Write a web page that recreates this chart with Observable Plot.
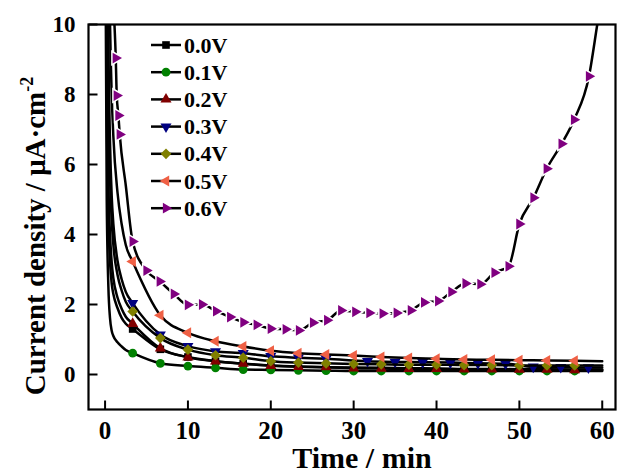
<!DOCTYPE html>
<html><head><meta charset="utf-8">
<script src="https://cdn.jsdelivr.net/npm/d3@7"></script>
<script src="https://cdn.jsdelivr.net/npm/@observablehq/plot@0.6"></script>
<style>body{margin:0;background:#fff;} #chart{width:617px;height:474px;}</style>
</head><body><div id="chart"></div>
<script>
// ---- data ----
const seriesNames  = ["0.0V","0.1V","0.2V","0.3V","0.4V","0.5V","0.6V"];
const seriesColors = ["#000000","#008000","#800000","#000080","#808000","#ef6045","#800080"];
const xTicks = [0,10,20,30,40,50,60];
const yTicks = [0,2,4,6,8,10];

// shared time grid (min) for 0.0, 0.1, 0.2, 0.4, 0.5 V
const tMain = [0.05,0.2,0.4,0.6,0.8,1.0,1.5,2.0,2.5,3.33,6.67,10,13.33,16.67,20,23.33,26.67,30,33.33,36.67,40,43.33,46.67,50,53.33,56.67,60];
const v00 = [20,8,4.5,3.2,2.6,2.3,1.9,1.62,1.45,1.3,0.72,0.5,0.38,0.31,0.26,0.23,0.21,0.2,0.19,0.18,0.17,0.16,0.16,0.15,0.15,0.14,0.14];
const v01 = [12,5,2.5,1.6,1.25,1.1,0.92,0.8,0.7,0.61,0.32,0.24,0.19,0.14,0.13,0.12,0.11,0.1,0.1,0.1,0.1,0.1,0.1,0.1,0.1,0.1,0.1];
const v02 = [25,10,5.5,4.0,3.2,2.75,2.2,1.88,1.65,1.45,0.75,0.49,0.38,0.31,0.25,0.22,0.21,0.18,0.17,0.16,0.16,0.15,0.15,0.14,0.14,0.13,0.13];
const v04 = [30,14,8,5.6,4.4,3.7,2.85,2.4,2.08,1.8,1.04,0.71,0.55,0.48,0.38,0.34,0.32,0.3,0.29,0.28,0.28,0.27,0.27,0.26,0.26,0.26,0.26];
const v05 = [40,22,14,10,8,6.8,5.2,4.3,3.7,3.23,1.69,1.19,0.95,0.8,0.68,0.61,0.57,0.54,0.5,0.47,0.45,0.43,0.42,0.41,0.4,0.39,0.38];
// 0.3 V has its own sampling (markers shift after ~28 min)
const t03 = [0.05,0.2,0.4,0.6,0.8,1.0,1.5,2.0,2.5,3.33,6.67,10,13.33,16.67,20,23.33,26.67,31.67,35,38.33,41.67,45,48.33,51.67,55,58.33,60];
const v03 = [35,16,9.5,6.6,5.1,4.3,3.25,2.72,2.36,2.04,1.14,0.81,0.66,0.61,0.52,0.48,0.45,0.38,0.36,0.35,0.34,0.32,0.31,0.22,0.21,0.2,0.2];
// 0.6 V
const t06 = [0.05,0.5,1.0,1.29,1.41,1.61,1.77,2.5,3.33,5.0,6.6,8.3,10,11.7,13.4,15.1,16.7,18.3,20,21.8,23.4,25.1,26.8,28.5,30.2,31.9,33.5,35.2,36.9,38.5,40.2,41.8,43.5,45.3,47.0,48.7,50.0,51.7,53.3,55.1,56.6,58.4,59.4,60];
const v06 = [40,16,10.8,9.04,7.97,7.4,6.86,5.4,3.8,2.97,2.66,2.3,1.99,2.0,1.81,1.64,1.49,1.42,1.31,1.29,1.26,1.48,1.55,1.83,1.79,1.76,1.74,1.76,1.83,2.06,2.10,2.36,2.6,2.58,2.91,3.09,4.3,5.05,5.88,6.59,7.28,8.52,10,10.9];
const m06 = [0,0,0,1,1,1,1,0,1,1,1,1,1,1,1,1,1,1,1,1,1,1,1,1,1,1,1,1,1,1,1,1,1,1,1,1,1,1,1,1,1,1,0,0];

// ---- symbols ----
const s3 = Math.sqrt(3);
function triangle(dir) {
  return {draw(ctx, size) {
    const y = -Math.sqrt(size / (s3 * 3));
    let pts = [[0, 2 * y], [-s3 * y, -y], [s3 * y, -y]];
    if (dir === "down") pts = pts.map(([a, b]) => [a, -b]);
    if (dir === "right") pts = pts.map(([a, b]) => [-b, a]);
    if (dir === "left") pts = pts.map(([a, b]) => [b, -a]);
    ctx.moveTo(pts[0][0], pts[0][1]);
    ctx.lineTo(pts[1][0], pts[1][1]);
    ctx.lineTo(pts[2][0], pts[2][1]);
    ctx.closePath();
  }};
}
const symbols = [d3.symbolSquare, d3.symbolCircle, triangle("up"), triangle("down"), d3.symbolDiamond2, triangle("left"), triangle("right")];
const radii = [4.3, 4.4, 4.1, 4.1, 4.8, 4.1, 4.0];
const tickUp = {draw(ctx) { ctx.moveTo(0, 0); ctx.lineTo(0, -9); }};
const tickRight = {draw(ctx) { ctx.moveTo(0, 0); ctx.lineTo(9, 0); }};

const tSets = [tMain, tMain, tMain, t03, tMain, tMain, t06];
const vSets = [v00, v01, v02, v03, v04, v05, v06];

const xDomain = [-2, 61.6];
const yDomain = [-1, 10];

const marks = [];
seriesNames.forEach((name, k) => {
  const rows = tSets[k].map((t, i) => ({t, v: vSets[k][i], m: k === 6 ? m06[i] === 1 : (t > 3 && t < 59.9)}));
  marks.push(Plot.line(rows, {x: "t", y: "v", stroke: "black", strokeWidth: 2.5, curve: "monotone-x", clip: true}));
  const mk = rows.filter(d => d.m);
  marks.push(Plot.dot(mk, {
    x: "t", y: "v", symbol: symbols[k], r: radii[k], fill: seriesColors[k],
    stroke: k === 6 ? "white" : "none", strokeWidth: k === 6 ? 3 : 0, paintOrder: "stroke", clip: true
  }));
});

const fontFam = "'Liberation Serif','Times New Roman',serif";
const svg = Plot.plot({
  width: 617, height: 474,
  marginLeft: 88, marginRight: 2, marginTop: 24, marginBottom: 65,
  style: {fontFamily: fontFam, fontWeight: "bold", background: "white", color: "black"},
  x: {domain: xDomain},
  y: {domain: yDomain},
  marks: [
    ...marks,
    Plot.dot(xTicks, {x: d => d, y: yDomain[0], symbol: tickUp, r: 3, stroke: "black", fill: "none", strokeWidth: 2}),
    Plot.dot(yTicks, {y: d => d, x: xDomain[0], symbol: tickRight, r: 3, stroke: "black", fill: "none", strokeWidth: 2}),
    Plot.axisX({ticks: xTicks, tickSize: 0, tickPadding: 12, fontSize: 25, fontWeight: "bold", label: null}),
    Plot.axisY({ticks: yTicks, tickSize: 0, tickPadding: 13, fontSize: 23, fontWeight: "bold", label: null}),
    Plot.frame({stroke: "black", strokeWidth: 2.2})
  ]
});
document.getElementById("chart").appendChild(svg);

const S = d3.select(svg);
// axis titles
S.append("text").attr("x", 362).attr("y", 468).attr("text-anchor", "middle")
  .attr("font-size", 30).attr("font-weight", "bold").attr("font-family", fontFam).attr("fill", "black")
  .text("Time / min");
const yt = S.append("text").attr("transform", "translate(45,236) rotate(-90)").attr("text-anchor", "middle")
  .attr("font-size", 29).attr("font-weight", "bold").attr("font-family", fontFam).attr("fill", "black");
yt.append("tspan").text("Current density / μA·cm");
yt.append("tspan").attr("font-size", 18).attr("dy", -12).text("-2");

// legend
const lg = S.append("g");
seriesNames.forEach((name, i) => {
  const cy = 45 + i * 27.2;
  lg.append("line").attr("x1", 151).attr("x2", 181).attr("y1", cy).attr("y2", cy)
    .attr("stroke", "black").attr("stroke-width", 2.5);
  lg.append("path").attr("d", d3.symbol(symbols[i], Math.PI * radii[i] * radii[i])())
    .attr("transform", `translate(166,${cy})`).attr("fill", seriesColors[i]);
  lg.append("text").attr("x", 184).attr("y", cy + 7.5).attr("font-size", 22).attr("text-anchor", "start")
    .attr("font-weight", "bold").attr("font-family", fontFam).attr("fill", "black").text(name);
});
</script>
</body></html>
